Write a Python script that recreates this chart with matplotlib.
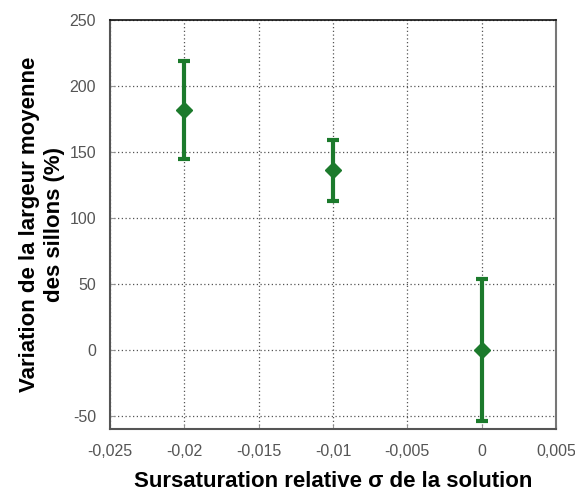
import matplotlib
matplotlib.use("Agg")
import matplotlib.pyplot as plt

x_vals = [-0.02, -0.01, 0.0]
y_vals = [182, 136, 0]
y_err = [37, 23, 54]

x_ticks = [-0.025, -0.02, -0.015, -0.01, -0.005, 0.0, 0.005]
x_tick_labels = ["-0,025", "-0,02", "-0,015", "-0,01", "-0,005", "0", "0,005"]
y_ticks = [-50, 0, 50, 100, 150, 200, 250]
y_tick_labels = ["-50", "0", "50", "100", "150", "200", "250"]

plt.rcParams['font.family'] = ['Liberation Sans', 'DejaVu Sans']

fig = plt.figure(figsize=(5.75, 4.93), dpi=100)
ax = fig.add_axes([0.1913, 0.1298, 0.967 - 0.1913, 0.9594 - 0.1298])

green = "#1c7a2c"
ax.errorbar(x_vals, y_vals, yerr=y_err, fmt='D', color=green, ecolor=green,
            elinewidth=3, capsize=4, capthick=3, markersize=8, zorder=3)

ax.set_xlim(-0.025, 0.005)
ax.set_ylim(-60, 250)
ax.set_xticks(x_ticks)
ax.set_xticklabels(x_tick_labels)
ax.set_yticks(y_ticks)
ax.set_yticklabels(y_tick_labels)
ax.tick_params(axis='both', labelsize=11.5, labelcolor='#555555', color='#999999',
               direction='in', length=3)
ax.tick_params(axis='x', pad=11)
ax.tick_params(axis='y', pad=10)

ax.grid(True, linestyle=(0, (1, 2)), color='#555555', linewidth=0.9)
ax.set_axisbelow(True)

for side in ['left', 'bottom']:
    ax.spines[side].set_color('#555555')
    ax.spines[side].set_linewidth(1.5)
ax.spines['top'].set_color('#111111')
ax.spines['top'].set_linewidth(1.2)
ax.spines['right'].set_color('#777777')
ax.spines['right'].set_linewidth(1.5)

ax.set_xlabel("Sursaturation relative σ de la solution", fontsize=16,
              fontweight='bold', labelpad=8.5)
ax.set_ylabel("Variation de la largeur moyenne\ndes sillons (%)", fontsize=16,
              fontweight='bold', labelpad=3, linespacing=1.25)

fig.savefig("out.png", dpi=100)
